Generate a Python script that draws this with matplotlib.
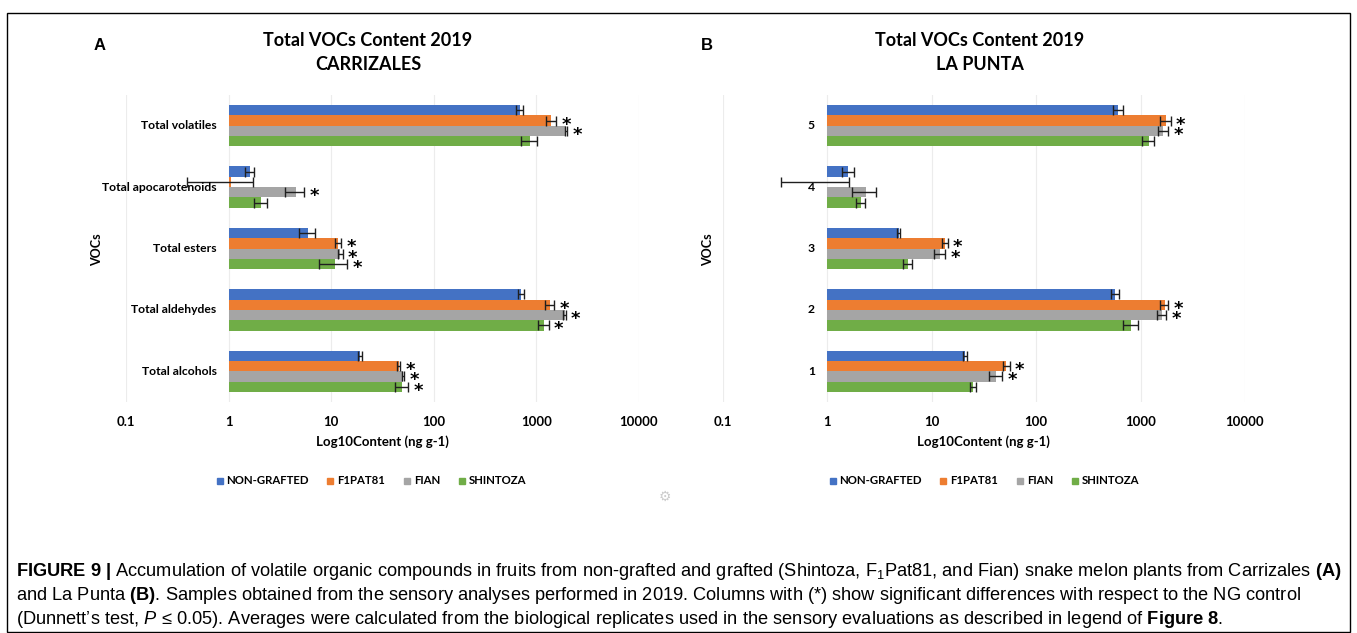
import matplotlib.pyplot as plt
from matplotlib.patches import Rectangle
from matplotlib.lines import Line2D

plt.rcParams['font.family'] = ['Lato', 'DejaVu Sans']
plt.rcParams['mathtext.fontset'] = 'custom'
plt.rcParams['mathtext.rm'] = 'Liberation Sans'
plt.rcParams['mathtext.it'] = 'Liberation Sans:italic'
plt.rcParams['mathtext.bf'] = 'Liberation Sans:bold'

groups = ['NON-GRAFTED', 'F1PAT81', 'FIAN', 'SHINTOZA']
colors = ['#4472C4', '#ED7D31', '#A5A5A5', '#70AD47']
ticks = [0.1, 1, 10, 100, 1000, 10000]
tick_labels = ['0.1', '1', '10', '100', '1000', '10000']

# categories bottom -> top
cats_a = ['Total alcohols', 'Total aldehydes', 'Total esters', 'Total apocarotenoids', 'Total volatiles']
cats_b = ['1', '2', '3', '4', '5']

# Carrizales
ng_a = [19.1, 710, 5.9, 1.6, 690]
ng_a_err = [1.0, 50, 1.0, 0.15, 55]
f1_a = [45.7, 1350, 11.7, 1.05, 1400]
f1_a_err = [1.5, 150, 0.8, 0.66, 150]
fian_a = [50, 1880, 12.3, 4.5, 1960]
fian_a_err = [1.5, 50, 0.6, 0.95, 40]
shin_a = [49, 1180, 11.0, 2.05, 860]
shin_a_err = [7, 140, 3.4, 0.3, 150]
sig_a = [[0, 0, 0, 0, 0], [1, 1, 1, 0, 1], [1, 1, 1, 1, 1], [1, 1, 1, 0, 0]]

# La Punta
ng_b = [21, 570, 4.85, 1.6, 610]
ng_b_err = [0.8, 50, 0.2, 0.2, 65]
f1_b = [52, 1700, 13.5, 0.99, 1750]
f1_b_err = [4, 150, 0.8, 0.63, 200]
fian_b = [41.5, 1600, 12, 2.35, 1650]
fian_b_err = [6, 150, 1.5, 0.6, 180]
shin_b = [25, 810, 5.9, 2.1, 1200]
shin_b_err = [1.5, 135, 0.6, 0.2, 160]
sig_b = [[0, 0, 0, 0, 0], [1, 1, 1, 0, 1], [1, 1, 1, 0, 1], [0, 0, 0, 0, 0]]


def draw_panel(ax, cats, vals, errs, sigs):
    h = 0.169
    offs = [1.5 * h, 0.5 * h, -0.5 * h, -1.5 * h]
    for k in range(4):
        ys = [i + offs[k] for i in range(len(cats))]
        ax.barh(ys, [v - 1 for v in vals[k]], left=1, height=h,
                color=colors[k], label=groups[k], zorder=2)
        ax.errorbar(vals[k], ys, xerr=errs[k], fmt='none', ecolor='#1f1f1f',
                    elinewidth=1, capsize=3.5, capthick=1, zorder=3)
        for v, e, y, s in zip(vals[k], errs[k], ys, sigs[k]):
            if s:
                ax.annotate('*', (v + e, y), xytext=(10, -4), textcoords='offset pixels',
                            ha='center', va='center', fontsize=13, fontweight='bold',
                            family='DejaVu Sans', zorder=4)
    for i, c in enumerate(cats):
        ax.annotate(c, (1, i), xytext=(-12, 0), textcoords='offset pixels',
                    ha='right', va='center', fontsize=8.75, fontweight='bold', zorder=5)
    ax.set_xscale('log')
    ax.set_xlim(0.1, 10000)
    ax.set_ylim(-0.5, len(cats) - 0.5)
    ax.set_xticks(ticks)
    ax.set_xticklabels(tick_labels, fontsize=9.5, fontweight='bold')
    ax.xaxis.set_minor_locator(plt.NullLocator())
    ax.tick_params(length=0, pad=10)
    ax.set_yticks([])
    ax.grid(axis='x', color='#ececec', lw=0.8, zorder=0)
    for sp in ax.spines.values():
        sp.set_visible(False)
    ax.set_xlabel('Log10Content (ng g-1)', fontsize=9.5, fontweight='bold', labelpad=5)


fig = plt.figure(figsize=(13.57, 6.33), dpi=100)
W, H = 1357, 633

ax_a = fig.add_axes([126 / W, 1 - 402 / H, 513 / W, 307 / H])
ax_b = fig.add_axes([722.5 / W, 1 - 402 / H, 522.5 / W, 307 / H])

draw_panel(ax_a, cats_a, [ng_a, f1_a, fian_a, shin_a],
           [ng_a_err, f1_a_err, fian_a_err, shin_a_err], sig_a)
draw_panel(ax_b, cats_b, [ng_b, f1_b, fian_b, shin_b],
           [ng_b_err, f1_b_err, fian_b_err, shin_b_err], sig_b)

# square legend keys like the Excel legend
keys = [Line2D([], [], ls='none', marker='s', markersize=5, color=c, label=g)
        for c, g in zip(colors, groups)]

for cx, name, letter, lx, vx, legx in [(368, 'CARRIZALES', 'A', 100, 97, 371),
                                       (980, 'LA PUNTA', 'B', 707, 708, 984)]:
    fig.text(cx / W, 1 - 41 / H, 'Total VOCs Content 2019', ha='center', va='center',
             fontsize=13, fontweight='bold')
    fig.text(cx / W, 1 - 64.5 / H, name, ha='center', va='center', fontsize=13, fontweight='bold')
    fig.text(lx / W, 1 - 45 / H, letter, ha='center', va='center', fontsize=12,
             fontweight='bold', family='Liberation Sans')
    fig.text(vx / W, 1 - 250 / H, 'VOCs', ha='center', va='center', rotation=90,
             fontsize=9, fontweight='bold')
    fig.legend(handles=keys, loc='center', bbox_to_anchor=(legx / W, 1 - 481 / H), ncol=4,
               frameon=False, handlelength=0.6, handletextpad=0.3,
               columnspacing=1.6, prop={'weight': 'bold', 'size': 8.2})

fig.text(665 / W, 1 - 497 / H, '\u2699', ha='center', va='center', color='#cccccc',
         fontsize=10, family='DejaVu Sans')

fig.patches.append(Rectangle((7 / W, 1 / H), 1343 / W, 619 / H, transform=fig.transFigure,
                             fill=False, ec='black', lw=1))

cap = [
    r"$\mathbf{FIGURE\ 9\ |}$ Accumulation of volatile organic compounds in fruits from non-grafted and grafted (Shintoza, F$_1$Pat81, and Fian) snake melon plants from Carrizales $\mathbf{(A)}$",
    r"and La Punta $\mathbf{(B)}$. Samples obtained from the sensory analyses performed in 2019. Columns with (*) show significant differences with respect to the NG control",
    "(Dunnett\u2019s test, $P$ \u2264 0.05). Averages were calculated from the biological replicates used in the sensory evaluations as described in legend of $\\mathbf{Figure\\ 8}$.",
]
cap_y = [572, 595.5, 619]
texts = [fig.text(16 / W, 1 - y / H, s, ha='left', va='center', fontsize=11,
                  family='Liberation Sans') for s, y in zip(cap, cap_y)]
fig.canvas.draw()
wpx = texts[0].get_window_extent().width
for t in texts:
    t.set_fontsize(11 * (1340 - 16) / wpx)

fig.savefig('out.png', dpi=100)
